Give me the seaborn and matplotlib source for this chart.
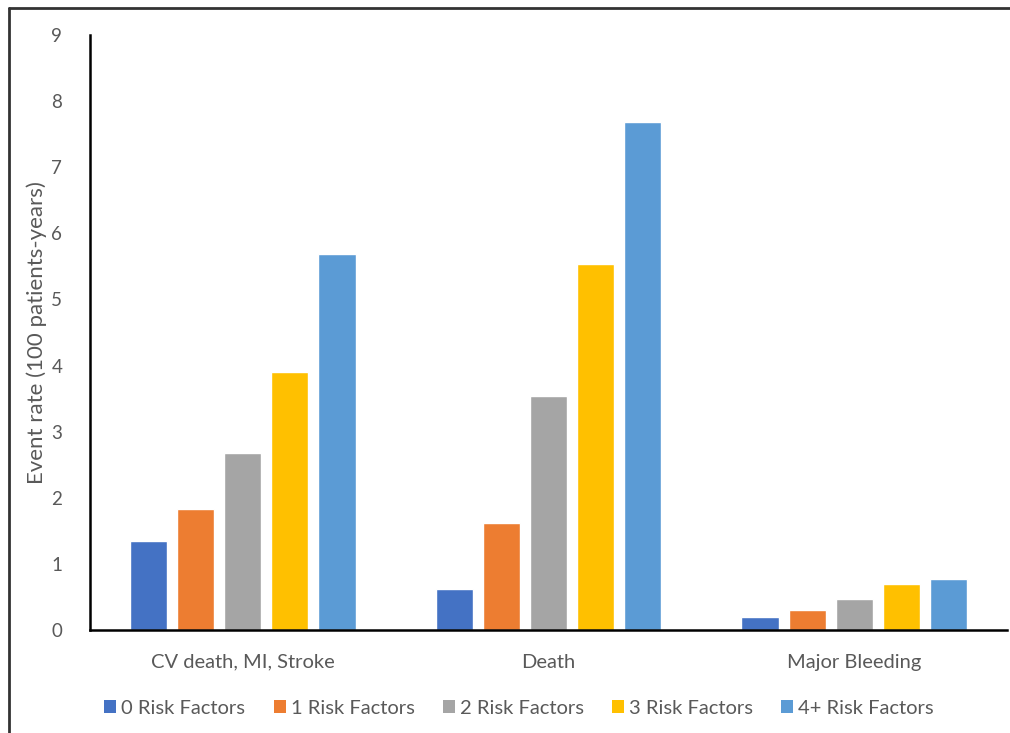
import matplotlib
matplotlib.use("Agg")
import matplotlib.pyplot as plt
import seaborn as sns
import pandas as pd
from matplotlib.lines import Line2D
from matplotlib.patches import Patch

categories = ["CV death, MI, Stroke", "Death", "Major Bleeding"]
series = ["0 Risk Factors", "1 Risk Factors", "2 Risk Factors", "3 Risk Factors", "4+ Risk Factors"]
rf0 = [1.35, 0.62, 0.19]
rf1 = [1.83, 1.62, 0.31]
rf2 = [2.68, 3.54, 0.47]
rf3 = [3.91, 5.53, 0.69]
rf4 = [5.68, 7.68, 0.77]
colors = ["#4472C4", "#ED7D31", "#A5A5A5", "#FFC000", "#5B9BD5"]
y_ticks = [0, 1, 2, 3, 4, 5, 6, 7, 8, 9]

rows = []
for s, vals in zip(series, [rf0, rf1, rf2, rf3, rf4]):
    for c, v in zip(categories, vals):
        rows.append({"Category": c, "Series": s, "Value": v})
df = pd.DataFrame(rows)

sns.set_theme(style="white")
plt.rcParams["font.family"] = ["Lato", "DejaVu Sans"]
text_color = "#595959"

fig = plt.figure(figsize=(10.1, 7.33), dpi=100)
ax = fig.add_axes([90 / 1010, 1 - 630 / 733, (1007 - 90) / 1010, (630 - 35) / 733])

sns.barplot(data=df, x="Category", y="Value", hue="Series", order=categories,
            hue_order=series, palette=colors, width=0.77, gap=0.21,
            saturation=1, ax=ax, legend=False, errorbar=None)

ax.set_ylim(0, 9)
ax.set_yticks(y_ticks)
ax.set_xlim(-0.5, 2.5)
ax.set_xlabel("")
ax.set_ylabel("Event rate (100 patients-years)", fontsize=16, color=text_color)
ax.yaxis.set_label_coords((47 - 90) / 917, 0.5)
ax.tick_params(axis="both", length=0, colors=text_color)
ax.tick_params(axis="y", pad=20, labelsize=13.5)
ax.tick_params(axis="x", pad=17, labelsize=14.5)
for sp in ["top", "right"]:
    ax.spines[sp].set_visible(False)
for sp in ["left", "bottom"]:
    ax.spines[sp].set_color("black")
    ax.spines[sp].set_linewidth(1.8)

handles = [Patch(facecolor=c, edgecolor="none") for c in colors]
fig.legend(handles, series, loc="center", bbox_to_anchor=(0.514, 1 - 708 / 733), ncol=5,
           frameon=False, fontsize=14.5, handlelength=0.6, handleheight=0.6,
           handletextpad=0.25, columnspacing=1.4, labelcolor=text_color)

# outer frame border
fig.add_artist(Line2D([9 / 1010, 9 / 1010], [0, 1 - 8 / 733], color="#333333", lw=2, transform=fig.transFigure))
fig.add_artist(Line2D([9 / 1010, 1], [1 - 8 / 733, 1 - 8 / 733], color="#333333", lw=2, transform=fig.transFigure))

fig.savefig("out.png", dpi=100)
